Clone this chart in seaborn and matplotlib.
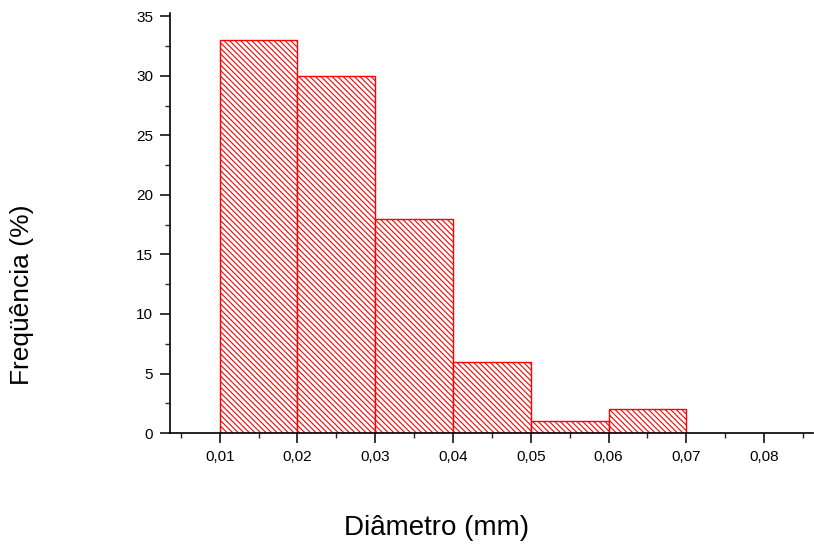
import numpy as np
import matplotlib
matplotlib.use("Agg")
import matplotlib.pyplot as plt
import seaborn as sns
from matplotlib.ticker import MultipleLocator, FuncFormatter

# --- dados ---
bin_edges = [0.01, 0.02, 0.03, 0.04, 0.05, 0.06, 0.07]
bin_centers = [0.015, 0.025, 0.035, 0.045, 0.055, 0.065]
frequencia = [33, 30, 18, 6, 1, 2]
x_ticks = [0.01, 0.02, 0.03, 0.04, 0.05, 0.06, 0.07, 0.08]
y_ticks = [0, 5, 10, 15, 20, 25, 30, 35]

sns.set_style("ticks")
plt.rcParams['font.family'] = ['Liberation Sans', 'DejaVu Sans']
plt.rcParams['hatch.linewidth'] = 0.8

W, H = 814, 547
fig = plt.figure(figsize=(W / 100, H / 100), dpi=100)
ax = fig.add_axes([0.2088, 0.2084, 0.79, 0.768])

sns.histplot(x=bin_centers, weights=frequencia, bins=bin_edges, ax=ax,
             color="white", edgecolor="red", linewidth=1.0,
             hatch="\\\\\\\\\\\\", alpha=1.0)

ax.set_xlim(0.0036, 0.0863)
ax.set_ylim(0, 35.3)
ax.set_xticks(x_ticks)
ax.set_yticks(y_ticks)
ax.xaxis.set_minor_locator(MultipleLocator(0.005))
ax.yaxis.set_minor_locator(MultipleLocator(2.5))
ax.xaxis.set_major_formatter(FuncFormatter(lambda v, p: f"{v:.2f}".replace(".", ",")))

for s in ["top", "right"]:
    ax.spines[s].set_visible(False)
for s in ["left", "bottom"]:
    ax.spines[s].set_linewidth(1.2)
    ax.spines[s].set_color("black")

ax.tick_params(axis="both", which="major", direction="out", length=7, width=1.1,
               labelsize=11, colors="black", pad=5)
ax.tick_params(axis="both", which="minor", direction="out", length=3.5, width=1.0)
ax.set_xlabel("")
ax.set_ylabel("")

# rótulos dos eixos (posição como no original, fora do centro)
fig.text(437 / W, 1 - 528 / H, "Diâmetro (mm)", fontsize=20, color="black",
         ha="center", va="center")
fig.text(22 / W, 1 - 295 / H, "Freqüência (%)", fontsize=19, color="black",
         ha="center", va="center", rotation=90)

fig.savefig("out.png", dpi=100)
